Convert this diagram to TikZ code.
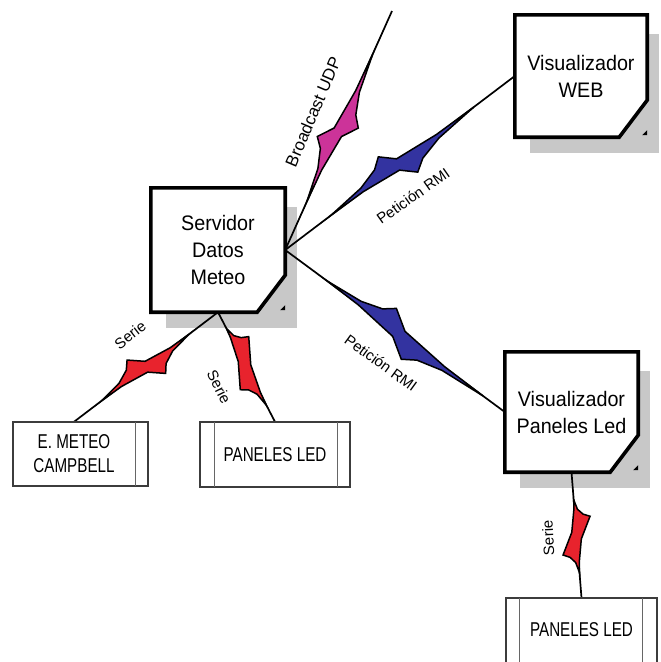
\documentclass[tikz,border=0pt]{standalone}
\usepackage{fontspec}
\setmainfont{Liberation Sans}
\newfontfamily\boxfont[FakeStretch=0.94]{Liberation Sans}
\newfontfamily\capfont[FakeStretch=0.76]{Liberation Sans}
\usetikzlibrary{calc,backgrounds}
\definecolor{shadowgray}{RGB}{200,200,200}
\definecolor{boltpink}{RGB}{204,51,153}
\definecolor{boltblue}{RGB}{51,51,160}
\definecolor{boltred}{RGB}{232,35,45}
\definecolor{thinline}{RGB}{60,60,60}
\tikzset{
 mainbox/.style={inner sep=0pt, align=center, font=\boxfont\fontsize{21}{27}\selectfont},
 capbox/.style={inner sep=0pt, align=center, font=\capfont\fontsize{20}{24}\selectfont},
 linklabel/.style={inner sep=0pt, font=\fontsize{15}{18}\selectfont},
 link/.style={line width=1.7pt, draw=black},
 boltst/.style={line width=1.5pt, draw=black, line join=miter, miter limit=20},
 thickedge/.style={line width=3.6pt, draw=black, line join=miter},
 thinedge/.style={line width=1.8pt, draw=thinline},
 inneredge/.style={line width=1.3pt, draw=black!60},
}
% #1 A, #2 B, #3 colour, #4 start of wedge, #5 tip1, #6 tip2, #7 end of wedge, #8 tip height
\newcommand\boltlink[8]{%
  \pgfmathsetmacro\bm{(#5+#6)/2}%
  \pgfmathsetmacro\bd{(#6-#5)}%
  \pgfmathsetmacro\nA{\bm+0.1*\bd}%
  \pgfmathsetmacro\nB{\bm-0.1*\bd}%
  \pgfmathsetmacro\hn{0.3*#8}%
  \pgfmathsetmacro\uA{#5-0.45*(#5-#4)}%
  \pgfmathsetmacro\uB{#6+0.45*(#7-#6)}%
  \pgfmathsetmacro\vA{#5-0.15*(#5-#4)}%
  \pgfmathsetmacro\vB{#6+0.15*(#7-#6)}%
  \pgfmathsetmacro\hu{0.2*#8}%
  \pgfmathsetmacro\hv{0.55*#8}%
  \pgfmathsetmacro\hl{0.04*#8}%
  \draw[link] (#1) -- (#2);
  \filldraw[boltst, fill=#3] ($(#1)!#4!(#2)$)
     -- ($(#1)!\uA!(#2)!\hu pt!90:(#2)$)
     -- ($(#1)!\vA!(#2)!\hv pt!90:(#2)$)
     -- ($(#1)!#5!(#2)!#8pt!90:(#2)$)
     -- ($(#1)!\nA!(#2)!\hn pt!90:(#2)$)
     -- ($(#1)!\uB!(#2)!\hl pt!90:(#2)$)
     -- ($(#1)!#7!(#2)$)
     -- ($(#1)!\uB!(#2)!\hu pt!-90:(#2)$)
     -- ($(#1)!\vB!(#2)!\hv pt!-90:(#2)$)
     -- ($(#1)!#6!(#2)!#8pt!-90:(#2)$)
     -- ($(#1)!\nB!(#2)!\hn pt!-90:(#2)$)
     -- ($(#1)!\uA!(#2)!\hl pt!-90:(#2)$)
     -- cycle;
}
\begin{document}
\begin{tikzpicture}[x=1pt,y=-1pt]
\useasboundingbox (0,0) rectangle (661,662);
% nodes
\node[mainbox, minimum width=134pt, minimum height=124pt] (srv) at (218,250) {Servidor\\Datos\\Meteo};
\node[mainbox, minimum width=132pt, minimum height=122pt] (web) at (581,76) {Visualizador\\WEB};
\node[mainbox, minimum width=133pt, minimum height=120pt] (vpl) at (571.5,412) {Visualizador\\Paneles Led};
\node[capbox, minimum width=122pt, minimum height=64pt] (meteo) at (74,454) {E. METEO\\CAMPBELL};
\node[capbox, minimum width=150pt, minimum height=65pt] (pled1) at (275,454.5) {PANELES LED};
\node[capbox, minimum width=151pt, minimum height=64pt] (pled2) at (581.5,630) {PANELES LED};
\coordinate (udp) at (392,11);
% backgrounds and shadows
\begin{pgfonlayer}{background}
  \fill[white] (0,0) rectangle (661,662);
  \foreach \n in {srv,web,vpl} {
    \fill[shadowgray] ($(\n.north west)+(15,19)$) rectangle ($(\n.south east)+(12,16)$);
    \fill[white] (\n.north west) -- (\n.north east) -- ($(\n.south east)+(0,-37)$) -- ($(\n.south east)+(-28,0)$) -- (\n.south west) -- cycle;
  }
\end{pgfonlayer}
% connectors
\boltlink{srv.east}{udp}{boltpink}{0.2}{0.446}{0.539}{0.82}{17}
\boltlink{srv.east}{web.west}{boltblue}{0.2}{0.453}{0.53}{0.82}{18}
\boltlink{srv.east}{vpl.west}{boltblue}{0.19}{0.455}{0.58}{0.9}{19}
\boltlink{srv.south}{meteo.north}{boltred}{0.2}{0.435}{0.56}{0.81}{17}
\boltlink{srv.south}{pled1.north}{boltred}{0.15}{0.29}{0.64}{0.85}{16}
\boltlink{vpl.south}{pled2.north}{boltred}{0.22}{0.36}{0.65}{0.8}{15}
% labels
\node[linklabel, font=\fontsize{17}{20}\selectfont, rotate=67] (lb1) at (313,112) {Broadcast UDP};
\node[linklabel, rotate=35] (lb2) at (413,196) {Petición RMI};
\node[linklabel, rotate=-36] (lb3) at (381,363) {Petición RMI};
\node[linklabel, rotate=38] (lb4) at (130,335) {Serie};
\node[linklabel, rotate=-63] (lb5) at (219,387) {Serie};
\node[linklabel, rotate=93] (lb6) at (548,538) {Serie};
% box outlines
\foreach \n in {srv,web,vpl} {
  \draw[thickedge] (\n.north west) -- (\n.north east) -- ($(\n.south east)+(0,-37)$) -- ($(\n.south east)+(-28,0)$) -- (\n.south west) -- cycle;
  \fill ($(\n.south east)+(0,-2)$) -- ($(\n.south east)+(-5,-2)$) -- ($(\n.south east)+(0,-7)$) -- cycle;
}
\draw[thinedge] (meteo.north west) rectangle ($(meteo.south east)+(13,0)$);
\draw[inneredge] (meteo.north east) -- (meteo.south east);
\draw[thinedge] (pled1.north west) rectangle (pled1.south east);
\draw[inneredge] ($(pled1.north west)+(15,0)$) -- ($(pled1.south west)+(15,0)$);
\draw[inneredge] ($(pled1.north east)+(-13,0)$) -- ($(pled1.south east)+(-13,0)$);
\draw[thinedge] ($(pled2.south west)+(0,20)$) -- (pled2.north west) -- (pled2.north east) -- ($(pled2.south east)+(0,20)$);
\draw[inneredge] ($(pled2.north west)+(14,0)$) -- ($(pled2.south west)+(14,20)$);
\draw[inneredge] ($(pled2.north east)+(-15,0)$) -- ($(pled2.south east)+(-15,20)$);
\end{tikzpicture}
\end{document}
